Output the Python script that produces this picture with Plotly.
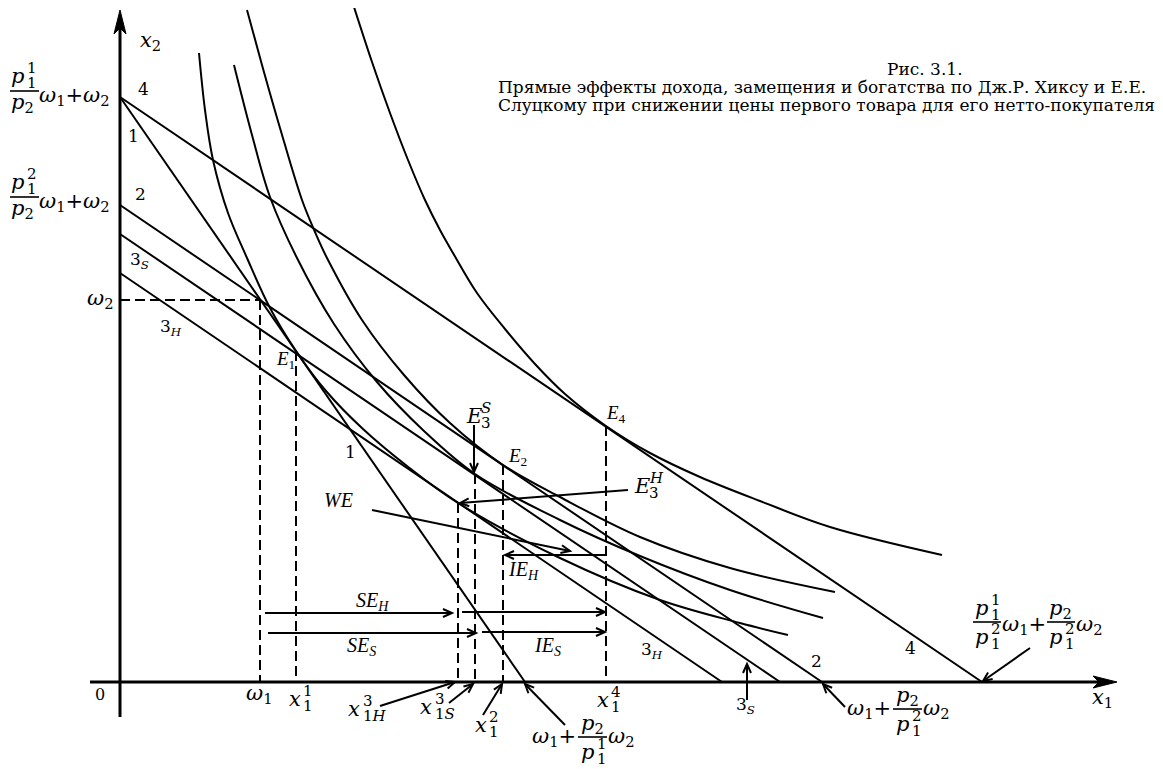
import math
import plotly.graph_objects as go

# The page places the figure 8px from the window's top-left corner,
# so the figure is sized/ranged so that it lines up with the window.
PAGE_OFF = 8
W, H = 1163 - PAGE_OFF, 769 - PAGE_OFF
OX, OY = 120, 682          # window-pixel position of the diagram origin
MATH = "DejaVu Serif"
SERIF = "Liberation Serif, Times New Roman, serif"

# ---------------- data (diagram units) ----------------
budget_names = ["1", "4", "2", "3S", "3H"]
budget_y_int = [585, 585, 477, 448, 409]
budget_x_int = [405, 862, 702, 660, 602]

omega = [140, 382]                      # endowment (w1, w2)

eq_names = ["E1", "E3H", "E3S", "E2", "E4"]
eq_x = [176, 338, 355, 383, 486]
eq_y = [331, 179, 208, 217, 256]

I1_x = [79, 85, 93, 108, 127, 150, 176, 206, 243, 287, 338, 440, 540, 620, 668]
I1_y = [629, 572, 522, 469, 424, 374, 331, 291, 253, 216, 179, 124, 82, 59, 47]
I3S_x = [114, 132, 150, 177, 214, 257, 304, 355, 440, 520, 610, 703]
I3S_y = [617, 547, 485, 424, 358, 300, 251, 208, 162, 126, 92, 64]
I2_x = [127, 142, 160, 182, 195, 207, 242, 284, 330, 383, 440, 520, 610, 715]
I2_y = [672, 617, 554, 482, 450, 424, 362, 307, 259, 217, 185, 145, 114, 90]
I4_x = [234, 252, 270, 288, 305, 320, 333, 357, 385, 415, 445, 486, 530, 580, 640, 710, 822]
I4_y = [675, 620, 569, 522, 482, 452, 429, 389, 353, 318, 288, 256, 229, 205, 181, 155, 127]

fig = go.Figure()

# budget lines
for name, yi, xi in zip(budget_names, budget_y_int, budget_x_int):
    fig.add_trace(go.Scatter(x=[0, xi], y=[yi, 0], mode="lines", name=name,
                             line=dict(color="black", width=2),
                             showlegend=False, hoverinfo="skip"))

# indifference curves
for xs, ys in [(I1_x, I1_y), (I3S_x, I3S_y), (I2_x, I2_y), (I4_x, I4_y)]:
    fig.add_trace(go.Scatter(x=xs, y=ys, mode="lines",
                             line=dict(color="black", width=2, shape="spline", smoothing=1.0),
                             showlegend=False, hoverinfo="skip"))

# dashed guides
dash = dict(color="black", width=2, dash="10px,5px")
fig.add_trace(go.Scatter(x=[0, omega[0]], y=[omega[1], omega[1]], mode="lines", line=dash,
                         showlegend=False, hoverinfo="skip"))
fig.add_trace(go.Scatter(x=[omega[0], omega[0]], y=[omega[1], 0], mode="lines", line=dash,
                         showlegend=False, hoverinfo="skip"))
for ex, ey in zip(eq_x, eq_y):
    fig.add_trace(go.Scatter(x=[ex, ex], y=[ey, 0], mode="lines", line=dash,
                             showlegend=False, hoverinfo="skip"))


# ---------------- helpers ----------------
def T(s, px, py, size=21, family=MATH, anchor="left"):
    fig.add_annotation(x=px - OX, y=OY - py, xref="x", yref="y", text=s, showarrow=False,
                       font=dict(family=family, size=size, color="black"),
                       xanchor=anchor, yanchor="middle", borderpad=0)


def stack(base, left, cy, sub, sup, dx, up=8, down=7):
    T(base, left, cy)
    T(sup, left + dx, cy - up, 15)
    T(sub, left + dx, cy + down, 15)


def bar(px0, px1, py):
    fig.add_shape(type="line", x0=px0 - OX, x1=px1 - OX, y0=OY - py, y1=OY - py,
                  xref="x", yref="y", line=dict(color="black", width=1.6))


def arrow(x0, y0, x1, y1, width=2, head_len=9, head_half=4):
    """Line from (x0,y0) to (x1,y1) with an open V head (1 unit = 1 px)."""
    fig.add_shape(type="line", x0=x0, y0=y0, x1=x1, y1=y1, xref="x", yref="y",
                  line=dict(color="black", width=width))
    n = math.hypot(x1 - x0, y1 - y0)
    ux, uy = (x1 - x0) / n, (y1 - y0) / n
    bx, by = x1 - head_len * ux, y1 - head_len * uy
    nx, ny = -uy, ux
    path = (f"M {bx + head_half * nx:.2f} {by + head_half * ny:.2f} "
            f"L {x1:.2f} {y1:.2f} L {bx - head_half * nx:.2f} {by - head_half * ny:.2f}")
    fig.add_shape(type="path", path=path, xref="x", yref="y",
                  line=dict(color="black", width=width))


def parrow(px0, py0, px1, py1, width=2):
    arrow(px0 - OX, OY - py0, px1 - OX, OY - py1, width)


# ---------------- axes ----------------
fig.add_shape(type="line", x0=-30, x1=985, y0=0, y1=0, xref="x", yref="y",
              line=dict(color="black", width=3))
fig.add_shape(type="line", x0=0, x1=0, y0=-35, y1=660, xref="x", yref="y",
              line=dict(color="black", width=3))
fig.add_shape(type="path", xref="x", yref="y",
              path="M 997 0 L 973 6 L 979 0 L 973 -6 Z",
              fillcolor="black", line=dict(color="black", width=1))
fig.add_shape(type="path", xref="x", yref="y",
              path="M 0 672 L -6 648 L 0 654 L 6 648 Z",
              fillcolor="black", line=dict(color="black", width=1))

# ---------------- effect arrows ----------------
se_h_lvl, se_s_lvl, ie_h_lvl = 69, 49, 127
arrow(omega[0] + 5, se_h_lvl, eq_x[1] - 6, se_h_lvl)
arrow(eq_x[1] + 4, se_h_lvl + 1, eq_x[4] - 1, se_h_lvl + 1)
arrow(omega[0] + 8, se_s_lvl, eq_x[2] + 1, se_s_lvl)
arrow(eq_x[2] + 7, se_s_lvl + 1, eq_x[4] - 1, se_s_lvl + 1)
arrow(eq_x[4] + 1, ie_h_lvl, eq_x[3] + 2, ie_h_lvl)

# pointers
parrow(380, 706, 455, 682)
parrow(449, 703, 473, 684)
parrow(483, 715, 502, 684)
parrow(565, 725, 525, 684)
parrow(747, 700, 747, 664)
parrow(845, 707, 823, 684)
parrow(1030, 648, 983, 681)
arrow(eq_x[2] - 1, 257, eq_x[2] - 1, eq_y[2] + 2)        # E3S
arrow(508, 192, eq_x[1] + 2, eq_y[1])                    # E3H
parrow(372, 510, 570, 551)                               # WE

# ---------------- labels ----------------
# left fractions
stack("<i>p</i>", 10, 76, "1", "1", 16)
bar(10, 39, 91)
T("<i>p</i><sub>2</sub>", 10, 103)
T("<i>ω</i><sub>1</sub>+<i>ω</i><sub>2</sub>", 38, 96)

stack("<i>p</i>", 10, 182, "1", "2", 16)
bar(10, 39, 197)
T("<i>p</i><sub>2</sub>", 10, 209)
T("<i>ω</i><sub>1</sub>+<i>ω</i><sub>2</sub>", 38, 202)

T("<i>ω</i><sub>2</sub>", 86, 299)
T("<i>x</i><sub>2</sub>", 139, 41)
T("<i>x</i><sub>1</sub>", 1091, 698)
T("0", 100, 694, 16, MATH, "center")

# bottom labels
T("<i>ω</i><sub>1</sub>", 245, 694)
stack("<i>x</i>", 288, 699, "1", "1", 14)
stack("<i>x</i>", 347, 709, "1<i>H</i>", "3", 15)
stack("<i>x</i>", 419, 707, "1<i>S</i>", "3", 15)
stack("<i>x</i>", 474, 725, "1", "2", 14)
stack("<i>x</i>", 596, 700, "1", "4", 14)

# w1 + p2/p1^1 w2
T("<i>ω</i><sub>1</sub>+", 531, 737)
T("<i>p</i><sub>2</sub>", 580, 724)
bar(578, 607, 737)
stack("<i>p</i>", 580, 752, "1", "1", 16)
T("<i>ω</i><sub>2</sub>", 607, 737)

# w1 + p2/p1^2 w2
T("<i>ω</i><sub>1</sub>+", 846, 709)
T("<i>p</i><sub>2</sub>", 895, 696)
bar(893, 922, 709)
stack("<i>p</i>", 895, 724, "1", "2", 16)
T("<i>ω</i><sub>2</sub>", 922, 709)

# p1^1/p1^2 w1 + p2/p1^2 w2
stack("<i>p</i>", 974, 608, "1", "1", 16)
bar(973, 1001, 622)
stack("<i>p</i>", 974, 637, "1", "2", 16)
T("<i>ω</i><sub>1</sub>+", 1001, 625)
T("<i>p</i><sub>2</sub>", 1048, 609)
bar(1047, 1075, 622)
stack("<i>p</i>", 1048, 637, "1", "2", 16)
T("<i>ω</i><sub>2</sub>", 1075, 625)

# equilibrium labels
stack("<i>E</i>", 465, 416, "3", "<i>S</i>", 15)
stack("<i>E</i>", 633, 486, "3", "<i>H</i>", 15)
T("<i>E</i><sub>1</sub>", 285, 360, 19, SERIF, "center")
T("<i>E</i><sub>2</sub>", 517, 457, 19, SERIF, "center")
T("<i>E</i><sub>4</sub>", 616, 414, 19, SERIF, "center")

# effect labels
T("<i>WE</i>", 338, 500, 20, SERIF, "center")
T("<i>SE<sub>H</sub></i>", 372, 601, 20, SERIF, "center")
T("<i>SE<sub>S</sub></i>", 361, 646, 20, SERIF, "center")
T("<i>IE<sub>S</sub></i>", 547, 646, 20, SERIF, "center")
T("<i>IE<sub>H</sub></i>", 523, 570, 20, SERIF, "center")

# budget line numbers
for s, px, py in [("4", 143, 89), ("1", 133, 136), ("2", 140, 194),
                  ("3<sub><i>S</i></sub>", 139, 260), ("3<sub><i>H</i></sub>", 171, 327),
                  ("1", 350, 452), ("3<sub><i>H</i></sub>", 652, 650), ("2", 816, 661),
                  ("4", 910, 648), ("3<sub><i>S</i></sub>", 745, 705)]:
    T(s, px, py, 17, MATH, "center")

# caption
T("Рис. 3.1.", 925, 69, 17, MATH, "center")
T("Прямые эффекты дохода, замещения и богатства по Дж.Р. Хиксу и Е.Е.", 497, 87, 17, MATH)
T("Слуцкому при снижении цены первого товара для его нетто-покупателя", 497, 105, 17, MATH)

fig.update_layout(
    width=W, height=H, margin=dict(l=0, r=0, t=0, b=0),
    plot_bgcolor="white", paper_bgcolor="white", showlegend=False,
    xaxis=dict(range=[PAGE_OFF - OX, PAGE_OFF - OX + W], visible=False, fixedrange=True),
    yaxis=dict(range=[OY - PAGE_OFF - H, OY - PAGE_OFF], visible=False, fixedrange=True),
)
fig.write_html("out.html")
